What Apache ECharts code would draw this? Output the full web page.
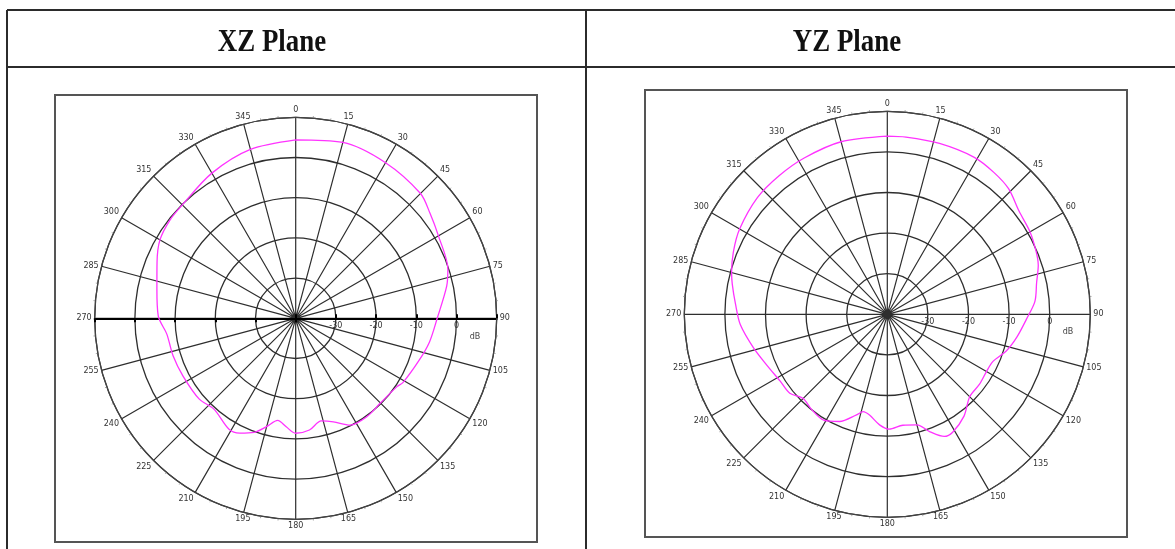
<!DOCTYPE html>
<html>
<head>
<meta charset="utf-8">
<script src="https://cdn.jsdelivr.net/npm/echarts@6/dist/echarts.min.js"></script>
<style>
html,body{margin:0;padding:0;background:#fff;}
#c{width:1175px;height:549px;}
</style>
</head>
<body>
<div id="c"></div>
<script>
// ---- data ----
const titles = ['XZ Plane', 'YZ Plane'];
const angleTicks = [0,15,30,45,60,75,90,105,120,135,150,165,180,195,210,225,240,255,270,285,300,315,330,345];
const radiusTicks = [-40,-30,-20,-10,0,10];
const radiusUnit = 'dB';

const xzAngles = [0,15,30,45,52,60,72,78,90,100,109,121,124,135,144,153,160,166,173,180,185,190,195,200,206,211,222,230,243,253,263,271,282,292,300,308,315,330,345,360];
const xzGain   = [4.4,5.3,4.7,3.9,2.4,1.0,-0.2,-1.6,-4.8,-6.2,-7.6,-8.9,-9.6,-10.2,-9.8,-10.2,-12.6,-13.7,-12.0,-11.4,-12.9,-14.2,-12.1,-9.8,-8.2,-7.8,-9.6,-8.7,-8.5,-8.1,-7.7,-5.8,-4.7,-2.8,-1.0,-0.3,-0.1,1.7,3.5,4.4];

const yzAngles = [0,6,17,29,37,44,52,60,67,72,78,85,92,100,107,114,120,127,135,143,151,155,160,165,172,179,184,190,194,197,204,211,219,225,231,238,247,256,266,274,281,285,292,300,312,322,332,345,360];
const yzGain   = [3.9,3.9,4.0,4.2,3.7,3.0,1.2,0.6,-0.2,-0.9,-2.4,-3.5,-5.7,-7.6,-9.3,-11.5,-11.8,-11.5,-11.3,-8.6,-6.8,-6.8,-9.2,-11.8,-12.4,-11.7,-12.7,-14.8,-15.3,-14.1,-11.1,-9.6,-10.1,-10.7,-9.1,-8.9,-7.8,-6.0,-3.7,-2.5,-1.1,-0.3,0.9,2.0,3.0,3.3,3.6,4.0,3.9];

// ---- layout ----
const plots = [
  {center:[295.7,318.3], radius:201, heavyAxis:true,  box:[55,95,482,447], title:[272,43], unit:[475,337]},
  {center:[887.3,314.3], radius:203, heavyAxis:false, box:[645,90,482,447], title:[847,43], unit:[1068,332]}
];
const seriesData = [
  xzAngles.map((a,i)=>[xzGain[i], a]),
  yzAngles.map((a,i)=>[yzGain[i], a])
];

const rMin = radiusTicks[0], rMax = radiusTicks[radiusTicks.length-1];
const aStep = angleTicks[1]-angleTicks[0];
const gridColor = '#2e2e2e';

const polar = [], angleAxis = [], radiusAxis = [], series = [];
plots.forEach((p, k) => {
  // main grid
  const mainIdx = polar.length;
  polar.push({center:p.center, radius:p.radius});
  angleAxis.push({
    polarIndex: mainIdx, type:'value', min:0, max:360, interval:aStep,
    startAngle:90, clockwise:true,
    axisLine:{show:true, lineStyle:{color:'#444', width:1.2}},
    axisTick:{show:false},
    minorTick:{show:true, splitNumber:3, length:2, lineStyle:{color:'#aaa'}},
    axisLabel:{show:true, fontSize:8, color:'#333', margin:3, fontFamily:'DejaVu Sans',
      formatter: v => (v >= 360 ? '' : String(v))},
    splitLine:{show:true, lineStyle:{color:gridColor, width:1.2}}
  });
  radiusAxis.push({
    polarIndex: mainIdx, type:'value', min:rMin, max:rMax, interval:radiusTicks[1]-radiusTicks[0],
    axisLine:{show:false}, axisTick:{show:false}, axisLabel:{show:false},
    splitLine:{show:true, lineStyle:{color:gridColor, width:1.3}}
  });
  // overlay: radius labels toward 90 deg
  const ovIdx = polar.length;
  polar.push({center:p.center, radius:p.radius});
  angleAxis.push({polarIndex:ovIdx, type:'value', min:0, max:360, startAngle:0, show:false});
  radiusAxis.push({
    polarIndex: ovIdx, type:'value', min:rMin, max:rMax, interval:radiusTicks[1]-radiusTicks[0],
    axisLine:{show:true, lineStyle:{color:p.heavyAxis?'#000':gridColor, width:p.heavyAxis?2:1.2}},
    axisTick:{show:p.heavyAxis, length:4, lineStyle:{color:'#000', width:2}},
    axisLabel:{show:true, fontSize:8, color:'#333', margin:-4, verticalAlign:'top', fontFamily:'DejaVu Sans',
      formatter: v => (v > rMin && v < rMax ? String(v) : '')},
    splitLine:{show:false}
  });
  if (p.heavyAxis) {
    const ov2 = polar.length;
    polar.push({center:p.center, radius:p.radius});
    angleAxis.push({polarIndex:ov2, type:'value', min:0, max:360, startAngle:180, show:false});
    radiusAxis.push({
      polarIndex: ov2, type:'value', min:rMin, max:rMax, interval:radiusTicks[1]-radiusTicks[0],
      axisLine:{show:true, lineStyle:{color:'#000', width:2}},
      axisTick:{show:true, length:4, lineStyle:{color:'#000', width:2}},
      axisLabel:{show:false}, splitLine:{show:false}
    });
  }
  series.push({
    type:'line', coordinateSystem:'polar', polarIndex:mainIdx,
    data: seriesData[k], smooth:0.3, showSymbol:false, symbol:'none',
    lineStyle:{color:'#ff33ff', width:1.3}, z:5, silent:true
  });
});

const graphic = [
  // table lines
  {type:'line', shape:{x1:7,y1:10,x2:1175,y2:10}, style:{stroke:'#2b2b2b', lineWidth:2}},
  {type:'line', shape:{x1:7,y1:67,x2:1175,y2:67}, style:{stroke:'#2b2b2b', lineWidth:2}},
  {type:'line', shape:{x1:7,y1:10,x2:7,y2:549}, style:{stroke:'#2b2b2b', lineWidth:2}},
  {type:'line', shape:{x1:586,y1:10,x2:586,y2:549}, style:{stroke:'#2b2b2b', lineWidth:2}}
];
plots.forEach((p,k)=>{
  graphic.push({type:'rect', shape:{x:p.box[0], y:p.box[1], width:p.box[2], height:p.box[3]},
    style:{fill:'none', stroke:'#555', lineWidth:2}});
  graphic.push({type:'text', x:p.title[0], y:p.title[1], scaleX:0.84,
    style:{text:titles[k], x:0, y:0, align:'center', verticalAlign:'middle',
      font:'bold 32px "Liberation Serif", "DejaVu Serif", serif', fill:'#111'}});
  graphic.push({type:'text', x:p.unit[0], y:p.unit[1],
    style:{text:radiusUnit, x:0, y:0, align:'center', verticalAlign:'middle',
      font:'8px "DejaVu Sans"', fill:'#444'}});
});

const chart = echarts.init(document.getElementById('c'), null, {renderer:'canvas'});
chart.setOption({
  animation:false,
  backgroundColor:'#fff',
  polar, angleAxis, radiusAxis, series, graphic
});
</script>
</body>
</html>
